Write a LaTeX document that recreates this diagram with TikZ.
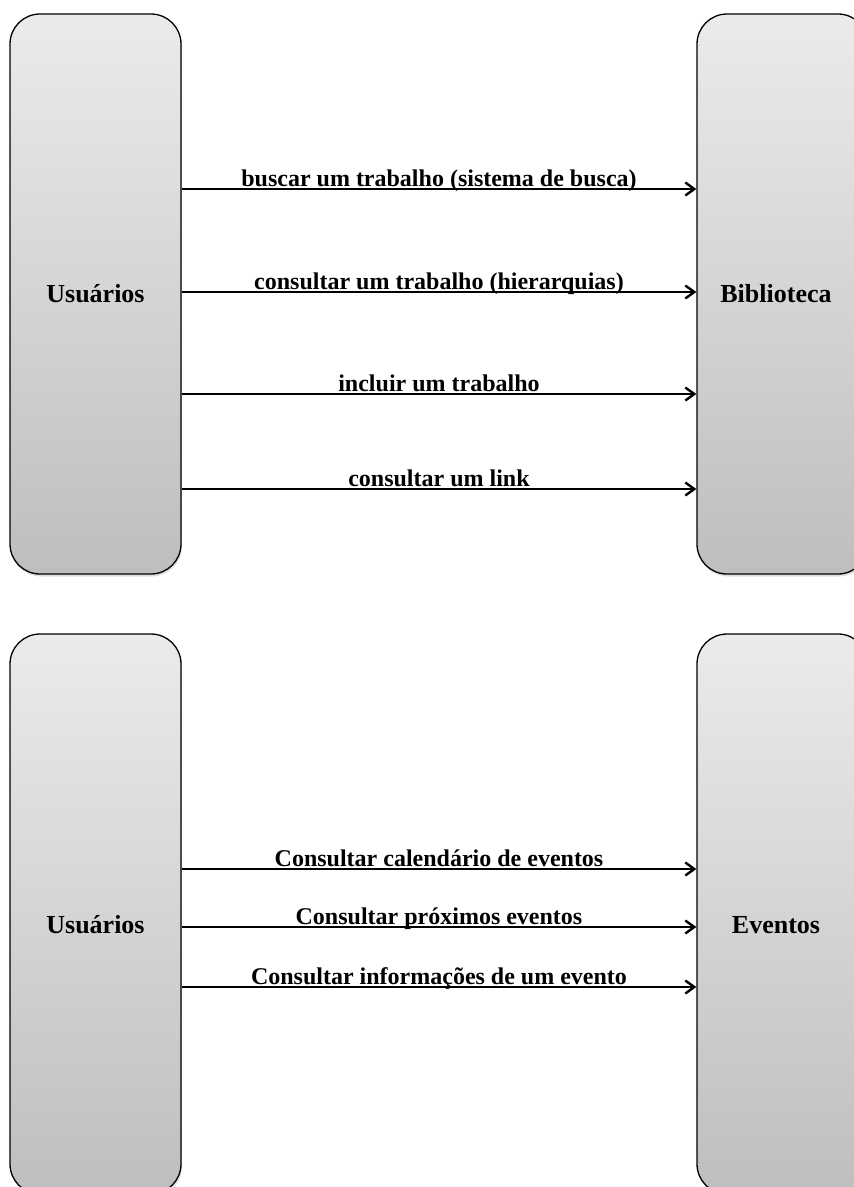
\documentclass[tikz,border=0pt]{standalone}
\usepackage{fontspec}
\setmainfont{Liberation Serif}
\usetikzlibrary{arrows.meta,shadows}
\definecolor{boxtop}{HTML}{EBEBEB}
\definecolor{boxbottom}{HTML}{BEBEBE}
\tikzset{
  actor/.style={draw=black, line width=1.3pt, rounded corners=30pt,
    top color=boxtop, bottom color=boxbottom,
    minimum width=171pt, minimum height=560pt, inner sep=0pt,
    drop shadow={opacity=0.25, shadow xshift=1pt, shadow yshift=-2.5pt}},
  actorname/.style={font=\bfseries\fontsize{26}{30}\selectfont},
  msg/.style={line width=2.8pt, -{Straight Barb[length=9pt,width=13pt,line width=2.4pt]}},
  msglabel/.style={anchor=base, yshift=3pt, inner sep=0pt,
    font=\bfseries\fontsize{24}{28}\selectfont}
}
\begin{document}
\begin{tikzpicture}[x=1pt,y=-1pt]
\useasboundingbox (0,0) rectangle (854,1187);
\clip (0,0) rectangle (854,1187);

% Biblioteca
\node[actor] (u1) at (95.5,294) {};
\node[actor] (b1) at (782.5,294) {};
\node[actorname] (u1txt) at (95.5,294) {Usuários};
\node[actorname] (b1txt) at (776,294) {Biblioteca};

\draw[msg] (u1.east |- 0,189) -- (b1.west |- 0,189)
  node[msglabel, midway] {buscar um trabalho (sistema de busca)};
\draw[msg] (u1.east |- 0,292) -- (b1.west |- 0,292)
  node[msglabel, midway] {consultar um trabalho (hierarquias)};
\draw[msg] (u1.east |- 0,394) -- (b1.west |- 0,394)
  node[msglabel, midway] {incluir um trabalho};
\draw[msg] (u1.east |- 0,489) -- (b1.west |- 0,489)
  node[msglabel, midway] {consultar um link};

% Eventos
\node[actor] (u2) at (95.5,914) {};
\node[actor] (e2) at (782.5,914) {};
\node[actorname] (u2txt) at (95.5,925) {Usuários};
\node[actorname] (e2txt) at (776,925) {Eventos};

\draw[msg] (u2.east |- 0,869) -- (e2.west |- 0,869)
  node[msglabel, midway] {Consultar calendário de eventos};
\draw[msg] (u2.east |- 0,927) -- (e2.west |- 0,927)
  node[msglabel, midway] {Consultar próximos eventos};
\draw[msg] (u2.east |- 0,987) -- (e2.west |- 0,987)
  node[msglabel, midway] {Consultar informações de um evento};
\end{tikzpicture}
\end{document}
